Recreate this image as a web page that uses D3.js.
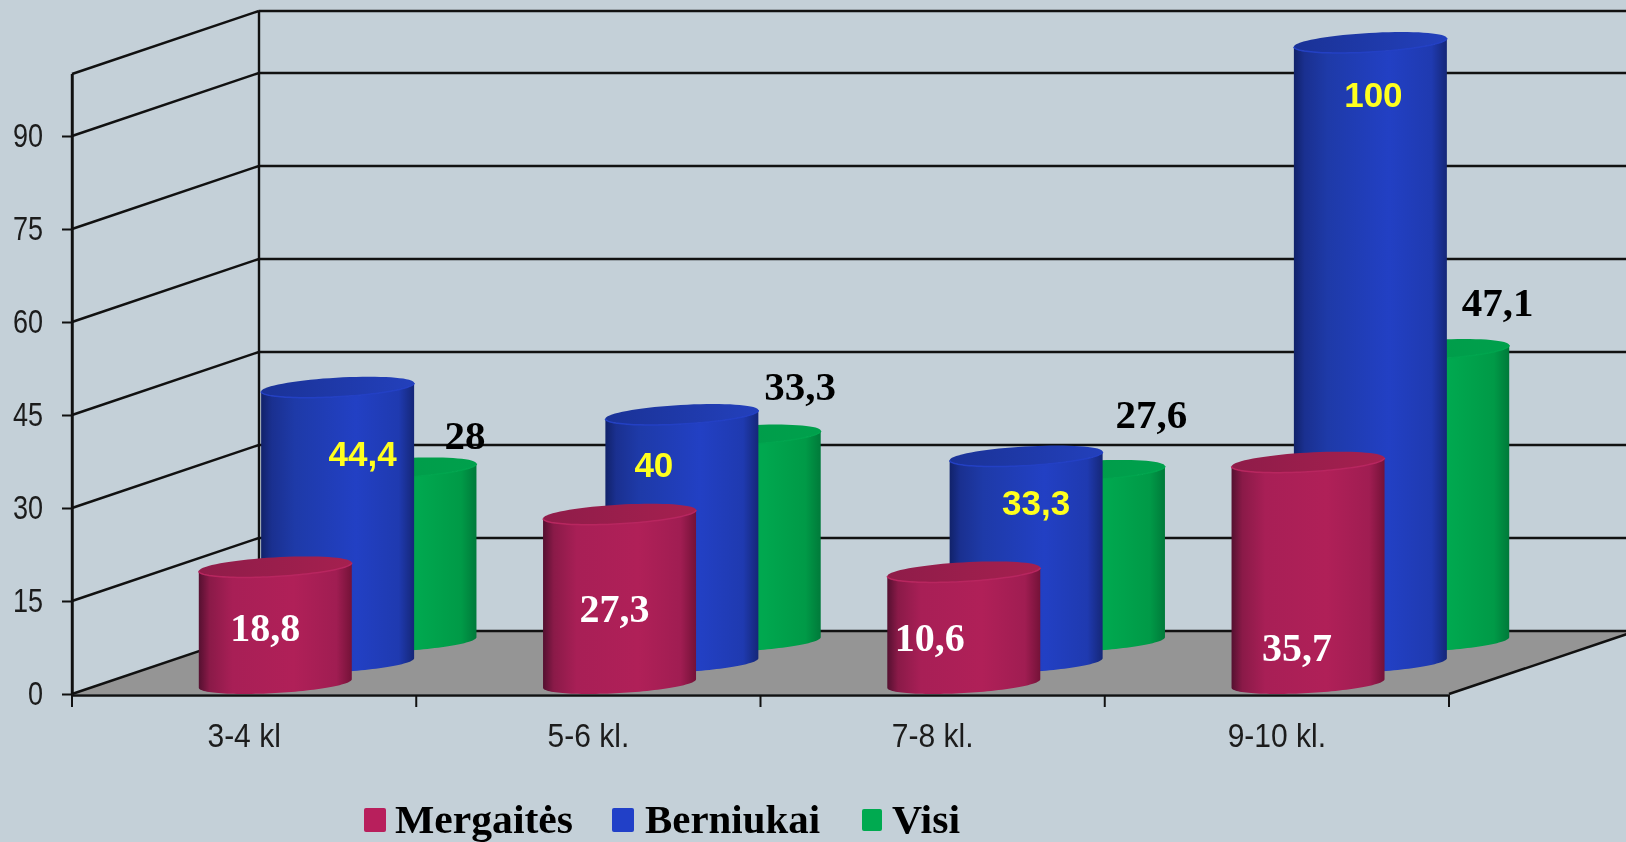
<!DOCTYPE html>
<html lang="lt">
<head>
<meta charset="utf-8">
<title>Mergaitės, Berniukai, Visi</title>
<script src="https://cdn.jsdelivr.net/npm/d3@7/dist/d3.min.js"></script>
<style>
html, body { margin: 0; padding: 0; background: #c4d0d8; overflow: hidden; }
svg { display: block; filter: blur(0.5px); }
</style>
</head>
<body>
<div id="chart"></div>
<script>
// values
const categories = ["3-4 kl", "5-6 kl.", "7-8 kl.", "9-10 kl."];
const seriesNames = ["Mergaitės", "Berniukai", "Visi"];
// the third girls' bar is drawn at about 18 although its label says 10,6
const mergaites = [18.8, 27.3, 18, 35.7];
const berniukai = [44.4, 40, 33.3, 100];
const visi = [28, 33.3, 27.6, 47.1];
const mergaitesLabels = ["18,8", "27,3", "10,6", "35,7"];
const berniukaiLabels = ["44,4", "40", "33,3", "100"];
const visiLabels = ["28", "33,3", "27,6", "47,1"];
const yTicks = [0, 15, 30, 45, 60, 75, 90];
const gridValues = [0, 15, 30, 45, 60, 75, 90, 100];

const width = 1626, height = 842;
const depth = { x: 187, y: -63 };
const x = d3.scaleBand().domain(categories).range([72, 1449]);
const y = d3.scaleLinear().domain([0, 100]).range([694, 74]);
const seriesPos = d3.scalePoint().domain(seriesNames).range([1 / 6, 5 / 6]);

const colors = {
    "Mergaitės": { stops: ["#551030", "#8a1a48", "#a81f56", "#b02058", "#a01d52", "#741238"], top: ["#8f1c49", "#a5204f"], rim: "#b8265f", swatch: "#b81f5c" },
    "Berniukai": { stops: ["#11226a", "#1a3090", "#1e3aa8", "#2240c4", "#1f3ab0", "#152778"], top: ["#1a3296", "#2340bc"], rim: "#2340c4", swatch: "#2140c8" },
    "Visi": { stops: ["#00843e", "#00a04a", "#00a84f", "#00a84f", "#009a47", "#007a3a"], top: ["#009a48", "#00a04c"], rim: "#00a54e", swatch: "#00aa50" }
};
const gradientStops = [0, 0.07, 0.22, 0.62, 0.9, 1];

// label position relative to the centre of the top of the cylinder
const labelOffsets = {
    "Mergaitės": [[-10, 61], [-5, 94], [-34, 66], [-11, 185]],
    "Berniukai": [[25, 66], [-28, 50], [10, 46], [3, 52]],
    "Visi": [[65, -33], [56, -49], [63, -56], [65, -47]]
};
const labelStyles = {
    "Mergaitės": { fill: "#fff", family: "'Liberation Serif', serif", size: 40 },
    "Berniukai": { fill: "#ffff1e", family: "'Liberation Sans', sans-serif", size: 35 },
    "Visi": { fill: "#000", family: "'Liberation Serif', serif", size: 41 }
};
const legendItems = [
    { name: "Mergaitės", sx: 364, sw: 22, tx: 395, tw: 178 },
    { name: "Berniukai", sx: 612, sw: 22, tx: 645, tw: 175 },
    { name: "Visi", sx: 862, sw: 20, tx: 892, tw: 68 }
];

const svg = d3.select("#chart").append("svg")
    .attr("width", width)
    .attr("height", height)
    .attr("viewBox", `0 0 ${width} ${height}`);

const defs = svg.append("defs");
seriesNames.forEach((name, i) => {
    const grad = defs.append("linearGradient").attr("id", "body" + i);
    gradientStops.forEach((s, j) => {
        grad.append("stop").attr("offset", s).attr("stop-color", colors[name].stops[j]);
    });
    const topGrad = defs.append("linearGradient").attr("id", "top" + i);
    colors[name].top.forEach((c, j) => {
        topGrad.append("stop").attr("offset", j).attr("stop-color", c);
    });
});

const lineColor = "#111";

// floor
const floorLine = d3.line();
svg.append("path")
    .attr("d", floorLine([
        [x.range()[0], y(0)],
        [x.range()[1], y(0)],
        [x.range()[1] + depth.x, y(0) + depth.y],
        [x.range()[0] + depth.x, y(0) + depth.y]
    ]) + "Z")
    .attr("fill", "#959595");

// walls
const grid = svg.append("g").attr("fill", "none").attr("stroke", lineColor).attr("stroke-width", 2.4);
grid.selectAll(".side").data(gridValues).enter().append("line")
    .attr("class", "side")
    .attr("x1", x.range()[0]).attr("y1", d => y(d))
    .attr("x2", x.range()[0] + depth.x).attr("y2", d => y(d) + depth.y);
grid.selectAll(".back").data(gridValues).enter().append("line")
    .attr("class", "back")
    .attr("x1", x.range()[0] + depth.x).attr("y1", d => y(d) + depth.y)
    .attr("x2", x.range()[1] + depth.x).attr("y2", d => y(d) + depth.y);
grid.append("line")
    .attr("x1", x.range()[0]).attr("y1", y(0)).attr("x2", x.range()[0]).attr("y2", y(100));
grid.append("line")
    .attr("x1", x.range()[0] + depth.x).attr("y1", y(0) + depth.y)
    .attr("x2", x.range()[0] + depth.x).attr("y2", y(100) + depth.y);
grid.append("line")
    .attr("x1", x.range()[1]).attr("y1", y(0))
    .attr("x2", x.range()[1] + depth.x).attr("y2", y(0) + depth.y);

// axes
const yScaleX = 0.82, xScaleX = 0.91;
const yAxis = d3.axisLeft(y).tickValues(yTicks).tickSize(10).tickSizeOuter(0).tickPadding(9);
const gy = svg.append("g").attr("transform", `translate(${x.range()[0]},0)`).call(yAxis);
const xAxis = d3.axisBottom(x).tickSize(0).tickSizeOuter(0).tickPadding(29);
const gx = svg.append("g").attr("transform", `translate(0,${y(0) + 1})`).call(xAxis);
[gy, gx].forEach(g => {
    g.select(".domain").attr("stroke", lineColor).attr("stroke-width", 2.4);
    g.selectAll("line").attr("stroke", lineColor).attr("stroke-width", 2);
    g.selectAll("text")
        .attr("fill", "#1c1c1c")
        .style("font-family", "'Liberation Sans', sans-serif")
        .style("font-size", "33px");
});
// no narrow font here, so the tick labels get squeezed
gy.selectAll("text").attr("x", -29 / yScaleX).attr("transform", `scale(${yScaleX},1)`);
gx.selectAll("text").attr("transform", `scale(${xScaleX},1)`);
gx.selectAll(".edge").data(categories.concat([null])).enter().append("line")
    .attr("class", "edge")
    .attr("x1", (d, i) => x.range()[0] + i * x.bandwidth())
    .attr("x2", (d, i) => x.range()[0] + i * x.bandwidth())
    .attr("y1", 0).attr("y2", 12)
    .attr("stroke", lineColor).attr("stroke-width", 2);

// cylinders, back row first
const cylA = depth.x / 6, cylB = -depth.y / 6, halfW = 76.5;
const cylR = Math.sqrt(halfW * halfW - cylA * cylA);
const silhouette = Math.atan2(cylA, cylR);

function ringPoint(cx, cy, t) {
    return [cx + cylR * Math.cos(t) + cylA * Math.sin(t), cy - cylB * Math.sin(t)];
}
function frontArc(cx, cy) {
    // from the left edge round the front to the right edge
    return d3.range(0, 61).map(k => {
        const t = Math.PI + silhouette + (k / 60) * Math.PI;
        return ringPoint(cx, cy, t);
    });
}
function ring(cx, cy) {
    return d3.range(0, 72).map(k => ringPoint(cx, cy, (k / 72) * 2 * Math.PI));
}

const rows = [
    { name: "Visi", values: visi, texts: visiLabels },
    { name: "Berniukai", values: berniukai, texts: berniukaiLabels },
    { name: "Mergaitės", values: mergaites, texts: mergaitesLabels }
];
const line = d3.line();
const cylinders = svg.append("g");
const labels = [];

rows.forEach(row => {
    const idx = seriesNames.indexOf(row.name);
    const f = seriesPos(row.name);
    row.values.forEach((v, i) => {
        const cx = x(categories[i]) + x.bandwidth() / 2 + depth.x * f;
        const baseY = y(0) + depth.y * f;
        const topY = baseY - (y(0) - y(v));
        const bottom = frontArc(cx, baseY);
        const top = frontArc(cx, topY).reverse();
        cylinders.append("path")
            .attr("d", line(bottom.concat(top)) + "Z")
            .attr("fill", `url(#body${idx})`);
        cylinders.append("path")
            .attr("d", line(ring(cx, topY)) + "Z")
            .attr("fill", `url(#top${idx})`);
        cylinders.append("path")
            .attr("d", line(frontArc(cx, topY)))
            .attr("fill", "none")
            .attr("stroke", colors[row.name].rim)
            .attr("stroke-width", 1.5);
        const off = labelOffsets[row.name][i];
        labels.push({ name: row.name, text: row.texts[i], x: cx + off[0], y: topY + off[1] });
    });
});

svg.append("g").selectAll("text").data(labels).enter().append("text")
    .attr("x", d => d.x)
    .attr("y", d => d.y)
    .attr("text-anchor", "middle")
    .attr("dominant-baseline", "central")
    .attr("fill", d => labelStyles[d.name].fill)
    .style("font-family", d => labelStyles[d.name].family)
    .style("font-size", d => labelStyles[d.name].size + "px")
    .style("font-weight", "bold")
    .text(d => d.text);

// legend
const legend = svg.append("g");
legend.selectAll("rect").data(legendItems).enter().append("rect")
    .attr("x", d => d.sx)
    .attr("y", d => 820 - d.sw * 0.55)
    .attr("width", d => d.sw)
    .attr("height", d => d.sw * 1.1)
    .attr("rx", 2)
    .attr("fill", d => colors[d.name].swatch);
legend.selectAll("text").data(legendItems).enter().append("text")
    .attr("x", d => d.tx)
    .attr("y", 833)
    .attr("textLength", d => d.tw)
    .attr("lengthAdjust", "spacingAndGlyphs")
    .attr("fill", "#000")
    .style("font-family", "'Liberation Serif', serif")
    .style("font-size", "41px")
    .style("font-weight", "bold")
    .text(d => d.name);
</script>
</body>
</html>
